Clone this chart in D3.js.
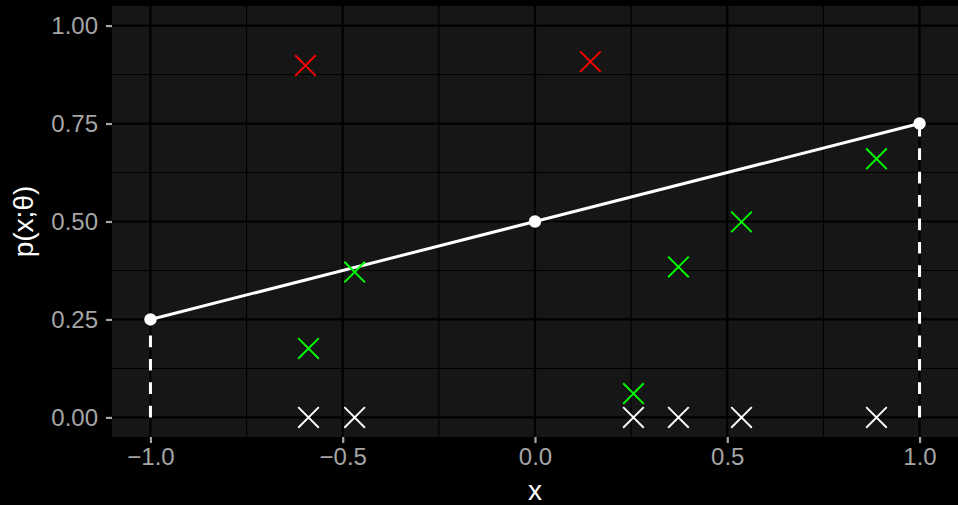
<!DOCTYPE html>
<html>
<head>
<meta charset="utf-8">
<script src="https://cdn.jsdelivr.net/npm/d3@7"></script>
<style>
  html, body { margin: 0; padding: 0; background: #000; }
  svg { display: block; }
  text { font-family: "Liberation Sans", Arial, sans-serif; }
</style>
</head>
<body>
<script>
// Logistic-style fit: probability at the three anchor inputs
const anchorX = [-1, 0, 1];
const anchorP = [0.25, 0.5, 0.75];

// Observed inputs with outcome 0 (drawn on the baseline) and their model probabilities
const obsX = [-0.589, -0.469, 0.256, 0.373, 0.537, 0.888];
const obsP = [0.176, 0.371, 0.061, 0.384, 0.499, 0.660];

// Points flagged separately
const flagX = [-0.597, 0.144];
const flagP = [0.898, 0.908];

// Axis ticks
const xTicks = [-1.0, -0.5, 0.0, 0.5, 1.0];
const xMinor = [-0.75, -0.25, 0.25, 0.75];
const yTicks = [0.00, 0.25, 0.50, 0.75, 1.00];
const yMinor = [0.125, 0.375, 0.625, 0.875];

const W = 958, H = 505;
const panel = { left: 112, right: 958, top: 6, bottom: 437 };

const svg = d3.select("body").append("svg")
  .attr("width", W).attr("height", H);

svg.append("rect").attr("width", W).attr("height", H).attr("fill", "#000");

const x = d3.scaleLinear().domain([-1.1, 1.1]).range([panel.left, panel.right]);
const y = d3.scaleLinear().domain([-0.05, 1.05]).range([panel.bottom, panel.top]);

svg.append("defs").append("clipPath").attr("id", "clip")
  .append("rect")
  .attr("x", panel.left).attr("y", panel.top)
  .attr("width", panel.right - panel.left).attr("height", panel.bottom - panel.top);

svg.append("rect")
  .attr("x", panel.left).attr("y", panel.top)
  .attr("width", panel.right - panel.left).attr("height", panel.bottom - panel.top)
  .attr("fill", "#161616");

const grid = svg.append("g").attr("clip-path", "url(#clip)");
// minor grid
grid.selectAll(".xm").data(xMinor).join("line")
  .attr("x1", d => x(d)).attr("x2", d => x(d))
  .attr("y1", panel.top).attr("y2", panel.bottom)
  .attr("stroke", "#000").attr("stroke-width", 1.1);
grid.selectAll(".ym").data(yMinor).join("line")
  .attr("y1", d => y(d)).attr("y2", d => y(d))
  .attr("x1", panel.left).attr("x2", panel.right)
  .attr("stroke", "#000").attr("stroke-width", 1.1);
// major grid
grid.selectAll(".xM").data(xTicks).join("line")
  .attr("x1", d => x(d)).attr("x2", d => x(d))
  .attr("y1", panel.top).attr("y2", panel.bottom)
  .attr("stroke", "#000").attr("stroke-width", 2.2);
grid.selectAll(".yM").data(yTicks).join("line")
  .attr("y1", d => y(d)).attr("y2", d => y(d))
  .attr("x1", panel.left).attr("x2", panel.right)
  .attr("stroke", "#000").attr("stroke-width", 2.2);

// Axes
const tickColor = "#a6a6a6";
const xAxis = svg.append("g")
  .attr("transform", `translate(0,${panel.bottom})`)
  .call(d3.axisBottom(x).tickValues(xTicks).tickFormat(d3.format(".1f")).tickSize(6).tickPadding(5));
const yAxis = svg.append("g")
  .attr("transform", `translate(${panel.left},0)`)
  .call(d3.axisLeft(y).tickValues(yTicks).tickFormat(d3.format(".2f")).tickSize(6).tickPadding(8));
[xAxis, yAxis].forEach(a => {
  a.select(".domain").remove();
  a.selectAll(".tick line").attr("stroke", tickColor).attr("stroke-width", 2.2);
  a.selectAll(".tick text").attr("fill", tickColor)
    .style("font-family", "'Liberation Sans', Arial, sans-serif")
    .style("font-size", "24px");
});

// Axis titles
svg.append("text")
  .attr("x", (panel.left + panel.right) / 2).attr("y", 500)
  .attr("text-anchor", "middle").attr("fill", "#fff")
  .style("font-size", "28px").text("x");
svg.append("text")
  .attr("transform", `translate(33,${(panel.top + panel.bottom) / 2}) rotate(-90)`)
  .attr("text-anchor", "middle").attr("fill", "#fff")
  .style("font-size", "28px").text("p(x;θ)");

const plot = svg.append("g").attr("clip-path", "url(#clip)");

// Dashed drop lines from the baseline to the end anchors
const ends = [0, anchorX.length - 1];
plot.selectAll(".drop").data(ends).join("line")
  .attr("x1", i => x(anchorX[i])).attr("x2", i => x(anchorX[i]))
  .attr("y1", y(0)).attr("y2", i => y(anchorP[i]))
  .attr("stroke", "#fff").attr("stroke-width", 3)
  .attr("stroke-dasharray", "11.7,11.7");

// Fitted line
plot.append("path")
  .datum(anchorX.map((d, i) => [d, anchorP[i]]))
  .attr("d", d3.line().x(d => x(d[0])).y(d => y(d[1])))
  .attr("fill", "none").attr("stroke", "#fff").attr("stroke-width", 3);

plot.selectAll(".anchor").data(anchorX).join("circle")
  .attr("cx", d => x(d)).attr("cy", (d, i) => y(anchorP[i]))
  .attr("r", 6.2).attr("fill", "#fff");

// Cross markers
function crosses(xs, ys, color) {
  const s = 10.3;
  const g = plot.append("g");
  xs.forEach((xv, i) => {
    const cx = x(xv), cy = y(ys[i]);
    g.append("path")
      .attr("d", `M${cx - s},${cy - s}L${cx + s},${cy + s}M${cx - s},${cy + s}L${cx + s},${cy - s}`)
      .attr("stroke", color).attr("stroke-width", 1.9).attr("fill", "none");
  });
}
crosses(obsX, obsX.map(() => 0), "#ffffff");
crosses(obsX, obsP, "#00ff00");
crosses(flagX, flagP, "#ff0000");
</script>
</body>
</html>
